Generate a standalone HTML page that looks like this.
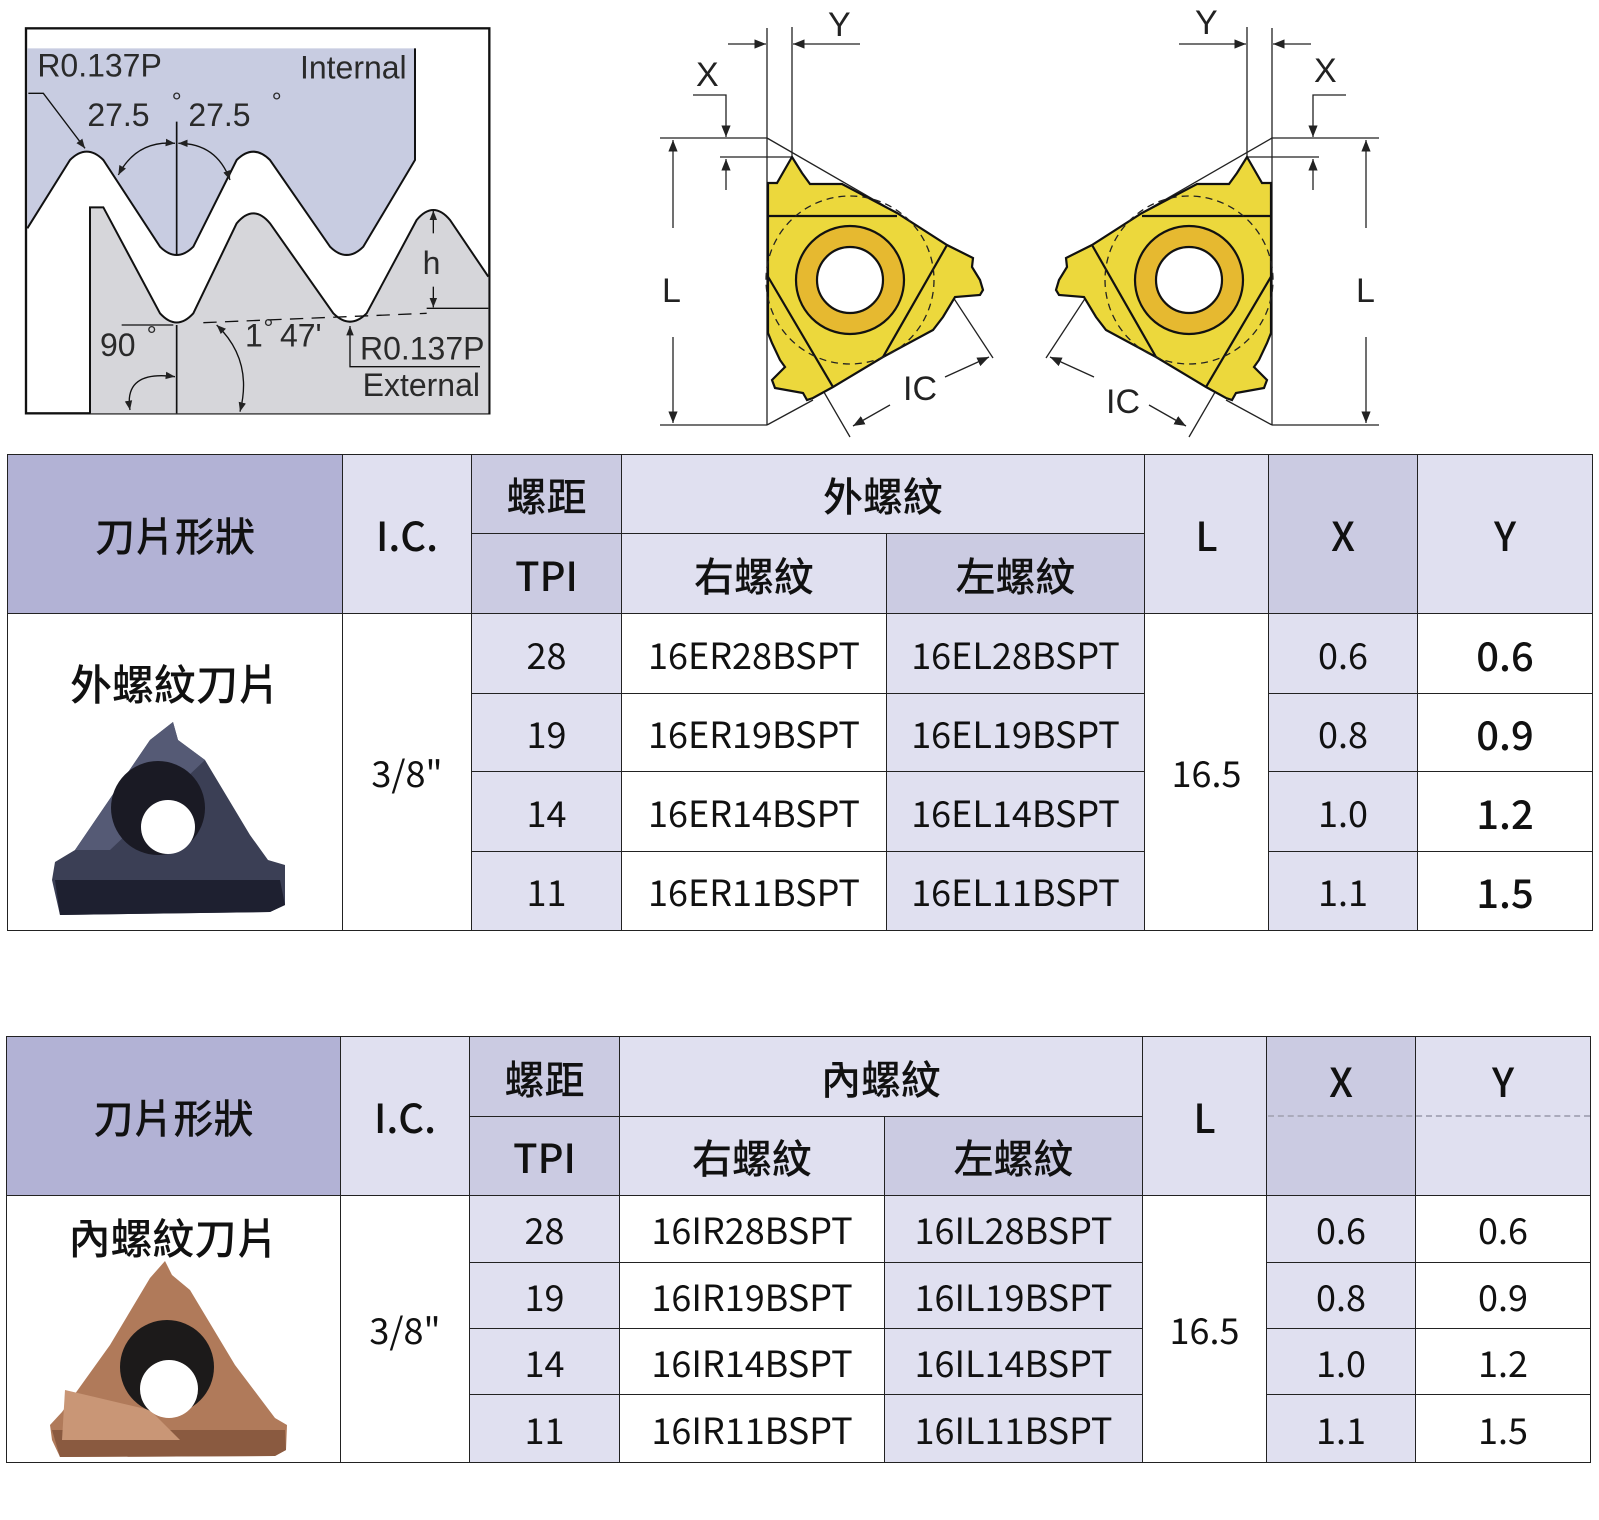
<!DOCTYPE html>
<html><head><meta charset="utf-8">
<style>
html,body{margin:0;padding:0;background:#fff;}
body{width:1599px;height:1520px;position:relative;overflow:hidden;font-family:"Noto Sans CJK TC","Liberation Sans",sans-serif;}
.c{position:absolute;box-sizing:border-box;border:1px solid #222;display:flex;align-items:center;justify-content:center;color:#111;font-size:36px;}
.h{font-size:40px;font-weight:500;}
.d{background:#b2b2d5;}.l{background:#e0e0f0;}.m{background:#cbcbe2;}.w{background:#fff;}
svg{position:absolute;left:0;top:0;}
</style></head><body>

<svg width="1599" height="440" viewBox="0 0 1599 440">
<defs>
<marker id="a" viewBox="0 0 10 10" refX="10" refY="5" markerWidth="9" markerHeight="9" orient="auto-start-reverse"><path d="M0,1 L10,5 L0,9 z" fill="#222"/></marker>
<marker id="b" viewBox="0 0 10 10" refX="10" refY="5" markerWidth="7" markerHeight="7" orient="auto-start-reverse"><path d="M0,1 L10,5 L0,9 z" fill="#222"/></marker>
</defs>
<!-- thread diagram -->
<g transform="scale(0.33333)">
<rect x="78" y="85" width="1390" height="1155" fill="#fff" stroke="#111" stroke-width="7"/>
<path d="M82,145 L1245,145 L1245,480 L1090,740 Q1040,790 990,740 L810,480 Q760,430 710,480 L580,740 Q530,790 480,740 L310,480 Q260,430 210,480 L82,685 Z" fill="#c8cce1"/>
<path d="M82,685 L210,480 Q260,430 310,480 L480,740 Q530,790 580,740 L710,480 Q760,430 810,480 L990,740 Q1040,790 1090,740 L1245,480 L1245,145" fill="none" stroke="#111" stroke-width="6"/>
<path d="M270,1240 L270,622 L310,622 L480,940 Q530,995 580,940 L710,670 Q760,610 810,670 L1000,940 Q1050,990 1100,940 L1250,660 Q1300,600 1350,660 L1465,830 L1465,1240 Z" fill="#d6d6da"/>
<path d="M270,1240 L270,622 L310,622 L480,940 Q530,995 580,940 L710,670 Q760,610 810,670 L1000,940 Q1050,990 1100,940 L1250,660 Q1300,600 1350,660 L1465,830" fill="none" stroke="#111" stroke-width="6"/>
<line x1="530" y1="365" x2="530" y2="765" stroke="#111" stroke-width="5"/>
<line x1="530" y1="975" x2="530" y2="1240" stroke="#111" stroke-width="5"/>
<line x1="365" y1="975" x2="520" y2="975" stroke="#111" stroke-width="4"/>
<line x1="610" y1="968" x2="1280" y2="940" stroke="#111" stroke-width="4" stroke-dasharray="40,25"/>
<line x1="1280" y1="925" x2="1465" y2="925" stroke="#111" stroke-width="4"/>
<line x1="1300" y1="700" x2="1300" y2="632" stroke="#111" stroke-width="4" marker-end="url(#b)"/>
<line x1="1300" y1="860" x2="1300" y2="922" stroke="#111" stroke-width="4" marker-end="url(#b)"/>
<path d="M85,280 L130,280 L255,445" fill="none" stroke="#111" stroke-width="4" marker-end="url(#b)"/>
<path d="M1440,1100 L1050,1100 L1050,978" fill="none" stroke="#111" stroke-width="4" marker-end="url(#b)"/>
<path d="M355,525 Q410,420 525,430" fill="none" stroke="#111" stroke-width="4" marker-start="url(#b)" marker-end="url(#b)"/>
<path d="M535,430 Q650,430 690,540" fill="none" stroke="#111" stroke-width="4" marker-start="url(#b)" marker-end="url(#b)"/>
<path d="M390,1230 Q370,1110 525,1130" fill="none" stroke="#111" stroke-width="4" marker-start="url(#b)" marker-end="url(#b)"/>
<path d="M650,975 Q760,1080 720,1235" fill="none" stroke="#111" stroke-width="4" marker-start="url(#b)" marker-end="url(#b)"/>
<g font-family="Liberation Sans,sans-serif" font-size="96" fill="#2a2a2a">
<text x="112" y="230">R0.137P</text>
<text x="900" y="235">Internal</text>
<text x="262" y="378">27.5</text><text x="515" y="330" font-size="76">°</text>
<text x="565" y="378">27.5</text><text x="815" y="330" font-size="76">°</text>
<text x="1268" y="822">h</text>
<text x="300" y="1068">90</text><text x="440" y="1030" font-size="76">°</text>
<text x="735" y="1040">1</text><text x="790" y="1010" font-size="76">°</text><text x="840" y="1040">47'</text>
<text x="1080" y="1078">R0.137P</text>
<text x="1088" y="1188">External</text>
</g>
</g>

<!-- left insert -->
<g id="ins">
<g stroke="#222" stroke-width="1.3" fill="none">
<line x1="767" y1="28" x2="767" y2="425"/>
<line x1="792" y1="27" x2="792" y2="157"/>
<line x1="728" y1="44" x2="766" y2="44" marker-end="url(#a)"/>
<line x1="860" y1="44" x2="793" y2="44" marker-end="url(#a)"/>
<path d="M693,95 L726,95 L726,137" marker-end="url(#a)"/>
<line x1="660" y1="138" x2="767" y2="138"/>
<line x1="720" y1="157" x2="792" y2="157"/>
<line x1="726" y1="190" x2="726" y2="159" marker-end="url(#a)"/>
<line x1="673" y1="228" x2="673" y2="140" marker-end="url(#a)"/>
<line x1="673" y1="337" x2="673" y2="423" marker-end="url(#a)"/>
<line x1="660" y1="425" x2="767" y2="425"/>
<line x1="767" y1="138" x2="897" y2="213"/>
<line x1="767" y1="425" x2="813" y2="400"/>
<line x1="907" y1="227" x2="993" y2="358"/>
<line x1="792" y1="337" x2="850" y2="437"/>
<line x1="945" y1="377" x2="989" y2="357" marker-end="url(#a)"/>
<line x1="890" y1="405" x2="853" y2="426" marker-end="url(#a)"/>
</g>
<path d="M768,183 L777,183 L792,157 L802,173 L810,184 L842,184 L897,213 L947,245 L973,258 L972,267 L980,280 L983,290 L980,295 L955,297 L943,317 L933,330 L883,357 L833,387 L813,398 L807,400 L803,393 L775,388 L772,380 L785,367 L780,360 L772,343 L768,333 Z" fill="#ecd83c" stroke="#111" stroke-width="2.2"/>
<g stroke="#111" stroke-width="2.2"><line x1="768" y1="216" x2="897" y2="216"/><line x1="947" y1="245" x2="883" y2="357"/><line x1="767" y1="275" x2="833" y2="387"/></g>
<circle cx="850" cy="280" r="84" fill="none" stroke="#222" stroke-width="1.3" stroke-dasharray="7,5"/>
<circle cx="850" cy="280" r="54" fill="#e6b930" stroke="#111" stroke-width="2.2"/>
<circle cx="850" cy="280" r="33" fill="#fff" stroke="#111" stroke-width="2.2"/>
</g>
<use href="#ins" transform="translate(2039,0) scale(-1,1)"/>
<g font-family="Liberation Sans,sans-serif" font-size="34" fill="#222">
<text x="828" y="36">Y</text><text x="696" y="86">X</text><text x="662" y="302">L</text><text x="903" y="400">IC</text>
<text x="1195" y="34">Y</text><text x="1314" y="82">X</text><text x="1356" y="302">L</text><text x="1106" y="413">IC</text>
</g>
</svg>

<!-- Table 1 -->
<div class="c h d" style="left:7px;top:454px;width:336px;height:160px;">刀片形狀</div>
<div class="c h l" style="left:342px;top:454px;width:130px;height:160px;">I.C.</div>
<div class="c h m" style="left:471px;top:454px;width:151px;height:80px;">螺距</div>
<div class="c h m" style="left:471px;top:533px;width:151px;height:81px;">TPI</div>
<div class="c h l" style="left:621px;top:454px;width:524px;height:80px;">外螺紋</div>
<div class="c h l" style="left:621px;top:533px;width:266px;height:81px;">右螺紋</div>
<div class="c h m" style="left:886px;top:533px;width:259px;height:81px;">左螺紋</div>
<div class="c h l" style="left:1144px;top:454px;width:125px;height:160px;">L</div>
<div class="c h m" style="left:1268px;top:454px;width:150px;height:160px;">X</div>
<div class="c h l" style="left:1417px;top:454px;width:176px;height:160px;">Y</div>
<div class="c w" style="left:7px;top:613px;width:336px;height:318px;"></div>
<div class="c w" style="left:342px;top:613px;width:130px;height:318px;">3/8"</div>
<div class="c w" style="left:1144px;top:613px;width:125px;height:318px;">16.5</div>

<div class="c l" style="left:471px;top:613px;width:151px;height:81px;">28</div>
<div class="c w" style="left:621px;top:613px;width:266px;height:81px;">16ER28BSPT</div>
<div class="c l" style="left:886px;top:613px;width:259px;height:81px;">16EL28BSPT</div>
<div class="c l" style="left:1268px;top:613px;width:150px;height:81px;">0.6</div>
<div class="c w" style="left:1417px;top:613px;width:176px;height:81px;font-size:40px;font-weight:500;">0.6</div>

<div class="c l" style="left:471px;top:693px;width:151px;height:79px;">19</div>
<div class="c w" style="left:621px;top:693px;width:266px;height:79px;">16ER19BSPT</div>
<div class="c l" style="left:886px;top:693px;width:259px;height:79px;">16EL19BSPT</div>
<div class="c l" style="left:1268px;top:693px;width:150px;height:79px;">0.8</div>
<div class="c w" style="left:1417px;top:693px;width:176px;height:79px;font-size:40px;font-weight:500;">0.9</div>

<div class="c l" style="left:471px;top:771px;width:151px;height:81px;">14</div>
<div class="c w" style="left:621px;top:771px;width:266px;height:81px;">16ER14BSPT</div>
<div class="c l" style="left:886px;top:771px;width:259px;height:81px;">16EL14BSPT</div>
<div class="c l" style="left:1268px;top:771px;width:150px;height:81px;">1.0</div>
<div class="c w" style="left:1417px;top:771px;width:176px;height:81px;font-size:40px;font-weight:500;">1.2</div>

<div class="c l" style="left:471px;top:851px;width:151px;height:80px;">11</div>
<div class="c w" style="left:621px;top:851px;width:266px;height:80px;">16ER11BSPT</div>
<div class="c l" style="left:886px;top:851px;width:259px;height:80px;">16EL11BSPT</div>
<div class="c l" style="left:1268px;top:851px;width:150px;height:80px;">1.1</div>
<div class="c w" style="left:1417px;top:851px;width:176px;height:80px;font-size:40px;font-weight:500;">1.5</div>

<div style="position:absolute;left:7px;top:652px;width:336px;text-align:center;font-size:42px;font-weight:500;color:#111;">外螺紋刀片</div>

<!-- Table 2 -->
<div class="c h d" style="left:6px;top:1036px;width:335px;height:160px;">刀片形狀</div>
<div class="c h l" style="left:340px;top:1036px;width:130px;height:160px;">I.C.</div>
<div class="c h m" style="left:469px;top:1036px;width:151px;height:81px;">螺距</div>
<div class="c h m" style="left:469px;top:1116px;width:151px;height:80px;">TPI</div>
<div class="c h l" style="left:619px;top:1036px;width:524px;height:81px;">內螺紋</div>
<div class="c h l" style="left:619px;top:1116px;width:266px;height:80px;">右螺紋</div>
<div class="c h m" style="left:884px;top:1116px;width:259px;height:80px;">左螺紋</div>
<div class="c h l" style="left:1142px;top:1036px;width:125px;height:160px;">L</div>
<div class="c h m" style="left:1266px;top:1036px;width:150px;height:160px;align-items:flex-start;padding-top:14px;">X</div>
<div class="c h l" style="left:1415px;top:1036px;width:176px;height:160px;align-items:flex-start;padding-top:14px;">Y</div>
<div style="position:absolute;left:1268px;top:1115px;width:322px;border-top:2px dashed #aaaabb;"></div>
<div class="c w" style="left:6px;top:1195px;width:335px;height:268px;"></div>
<div class="c w" style="left:340px;top:1195px;width:130px;height:268px;">3/8"</div>
<div class="c w" style="left:1142px;top:1195px;width:125px;height:268px;">16.5</div>

<div class="c l" style="left:469px;top:1195px;width:151px;height:68px;">28</div>
<div class="c w" style="left:619px;top:1195px;width:266px;height:68px;">16IR28BSPT</div>
<div class="c l" style="left:884px;top:1195px;width:259px;height:68px;">16IL28BSPT</div>
<div class="c l" style="left:1266px;top:1195px;width:150px;height:68px;">0.6</div>
<div class="c w" style="left:1415px;top:1195px;width:176px;height:68px;">0.6</div>

<div class="c l" style="left:469px;top:1262px;width:151px;height:67px;">19</div>
<div class="c w" style="left:619px;top:1262px;width:266px;height:67px;">16IR19BSPT</div>
<div class="c l" style="left:884px;top:1262px;width:259px;height:67px;">16IL19BSPT</div>
<div class="c l" style="left:1266px;top:1262px;width:150px;height:67px;">0.8</div>
<div class="c w" style="left:1415px;top:1262px;width:176px;height:67px;">0.9</div>

<div class="c l" style="left:469px;top:1328px;width:151px;height:67px;">14</div>
<div class="c w" style="left:619px;top:1328px;width:266px;height:67px;">16IR14BSPT</div>
<div class="c l" style="left:884px;top:1328px;width:259px;height:67px;">16IL14BSPT</div>
<div class="c l" style="left:1266px;top:1328px;width:150px;height:67px;">1.0</div>
<div class="c w" style="left:1415px;top:1328px;width:176px;height:67px;">1.2</div>

<div class="c l" style="left:469px;top:1394px;width:151px;height:69px;">11</div>
<div class="c w" style="left:619px;top:1394px;width:266px;height:69px;">16IR11BSPT</div>
<div class="c l" style="left:884px;top:1394px;width:259px;height:69px;">16IL11BSPT</div>
<div class="c l" style="left:1266px;top:1394px;width:150px;height:69px;">1.1</div>
<div class="c w" style="left:1415px;top:1394px;width:176px;height:69px;">1.5</div>

<div style="position:absolute;left:6px;top:1206px;width:335px;text-align:center;font-size:42px;font-weight:500;color:#111;">內螺紋刀片</div>

<!-- insert photos -->
<svg width="1599" height="1520" viewBox="0 0 1599 1520" style="pointer-events:none">
<path d="M150,740 L173,722 L178,740 L205,760 L250,835 L268,860 L285,865 L285,905 L270,912 L60,915 L52,880 L55,862 L75,850 Z" fill="#3b3f55"/>
<path d="M55,880 L280,880 L285,905 L270,912 L60,915 Z" fill="#1e2030"/>
<path d="M150,740 L173,722 L178,740 L205,760 L110,850 L75,850 Z" fill="#555a75"/>
<circle cx="158" cy="808" r="47" fill="#1a1a24"/>
<circle cx="168" cy="827" r="27" fill="#fff"/>
<path d="M150,1278 L165,1261 L172,1275 L190,1290 L235,1365 L275,1418 L287,1425 L286,1450 L275,1456 L60,1457 L52,1440 L50,1425 L62,1412 L110,1345 Z" fill="#b07a5a"/>
<path d="M52,1430 L285,1430 L286,1450 L275,1456 L60,1457 Z" fill="#8a5a40"/>
<path d="M65,1390 L150,1410 L180,1440 L62,1440 Z" fill="#c99676"/>
<circle cx="167" cy="1367" r="47" fill="#1c1a1a"/>
<circle cx="169" cy="1389" r="29" fill="#fff"/>
</svg>
</body></html>
